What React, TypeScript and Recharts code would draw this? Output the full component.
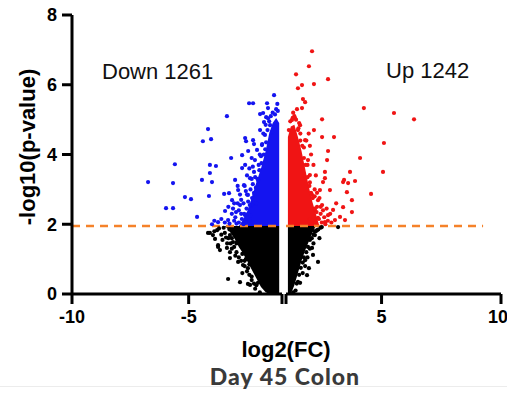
import { ComposedChart, Area, Scatter, XAxis, YAxis, ReferenceLine } from "recharts";

// dense cores of the volcano, as [low, high] -log10(p) bands per log2(FC)
const leftCoreX = [-1.12, -1.25, -1.4, -1.55, -1.7, -1.9, -2.1, -2.3, -2.5, -2.7, -2.85, -3.0, -3.3, -3.45];
const downBand: ([number, number] | null)[] = [
  [1.95, 4.9], [1.95, 5.05], [1.95, 4.9], [1.95, 4.6], [1.95, 4.1], [1.95, 3.6], [1.95, 3.2],
  [1.95, 2.75], [1.95, 2.35], [1.95, 2.1], [1.95, 1.95], null, null, null,
];
const nsLeftBand: ([number, number] | null)[] = [
  [0, 1.95], [0, 1.95], [0, 1.95], [0, 1.95], [0.05, 1.95], [0.2, 1.95], [0.45, 1.95],
  [0.7, 1.95], [0.95, 1.95], [1.2, 1.95], [1.35, 1.95], [1.55, 1.95], [1.85, 1.95], [1.95, 1.95],
];

const rightCoreX = [1.08, 1.2, 1.35, 1.5, 1.65, 1.8, 1.95, 2.1, 2.25, 2.4];
const upBand: [number, number][] = [
  [1.95, 4.5], [1.95, 4.8], [1.95, 4.85], [1.95, 4.5], [1.95, 4.1], [1.95, 3.6], [1.95, 3.1], [1.95, 2.65], [1.95, 2.3], [1.95, 1.95],
];
const nsRightBand: [number, number][] = [
  [0, 1.95], [0, 1.95], [0.25, 1.95], [0.6, 1.95], [0.95, 1.95], [1.25, 1.95], [1.5, 1.95], [1.75, 1.95], [1.95, 1.95], [1.95, 1.95],
];

// individual genes outside the cores [log2FC, -log10 p]
const downPts: [number, number][] = [
  [-1.34, 5.7], [-2.41, 5.47], [-2.24, 5.47], [-1.64, 5.47], [-1.6, 5.33], [-1.81, 5.19], [-1.94, 5.16],
  [-3.36, 5.1], [-4.17, 4.73], [-4.39, 4.38], [-4.04, 4.44], [-2.58, 4.47], [-2.54, 4.38], [-2.24, 4.41],
  [-3.18, 3.9], [-2.71, 3.98], [-5.59, 3.72], [-4.09, 3.7], [-3.83, 3.67], [-4.09, 3.47], [-4.43, 3.27],
  [-4.0, 3.21], [-6.74, 3.21], [-5.67, 3.18], [-5.16, 2.78], [-4.9, 2.72], [-4.13, 2.81], [-3.48, 2.87],
  [-3.27, 2.89], [-5.97, 2.46], [-5.67, 2.46], [-4.64, 2.21], [-3.44, 2.38], [-2.71, 3.61], [-2.58, 3.7],
  [-2.16, 3.84], [-3.01, 3.27], [-2.88, 2.98], [-2.63, 3.12], [-3.14, 2.69], [-2.8, 2.55], [-2.46, 2.84],
  [-2.97, 2.35], [-3.31, 2.12], [-2.58, 2.26], [-2.28, 2.55], [-2.37, 3.32], [-2.07, 4.13], [-1.94, 4.7],
  [-1.77, 4.93], [-1.68, 5.07], [-1.86, 4.27], [-3.74, 2.06], [-4.0, 2.0], [-1.6, 5.04], [-1.51, 4.84],
  [-1.43, 4.64], [-1.73, 4.56], [-2.2, 3.5], [-2.35, 3.0], [-2.5, 2.85], [-2.65, 2.6], [-2.45, 2.3],
  [-2.75, 2.3], [-3.0, 2.2], [-2.2, 2.9], [-2.05, 3.3], [-1.95, 4.0], [-1.85, 4.3], [-2.0, 3.7],
  [-2.3, 3.3], [-2.9, 2.6], [-3.1, 2.45], [-3.6, 2.15], [-3.9, 2.1], [-2.6, 3.1], [-2.4, 3.6],
  [-1.8, 4.6], [-1.7, 4.85],
  [-1.72, 4.15], [-1.78, 4.0], [-1.88, 3.75], [-1.97, 3.55], [-2.02, 3.25], [-2.12, 3.05], [-2.18, 2.85],
  [-2.28, 2.75], [-2.38, 2.55], [-2.52, 2.45], [-2.62, 2.3], [-2.72, 2.15], [-2.85, 2.05], [-2.95, 2.02],
  [-3.05, 2.1], [-3.25, 2.02], [-3.45, 2.05], [-2.4, 2.1], [-2.55, 2.05], [-2.25, 3.15], [-2.15, 3.35],
  [-2.45, 2.65], [-2.75, 2.7], [-2.85, 2.4], [-1.68, 4.35], [-1.62, 4.7], [-1.55, 4.95], [-1.48, 5.1],
  [-1.4, 5.2], [-1.25, 5.3], [-1.18, 5.25], [-1.2, 5.45], [-1.3, 5.15], [-2.1, 2.6],
  [-2.65, 2.0], [-3.15, 2.3], [-2.35, 2.25], [-1.9, 3.95], [-2.5, 3.4], [-2.3, 3.9], [-2.8, 2.85],
  [-3.05, 2.6], [-2.9, 3.1], [-2.55, 2.95], [-3.3, 2.5], [-2.45, 4.1], [-2.2, 4.3], [-2.25, 3.65],
];
const upPts: [number, number][] = [
  [2.09, 6.96], [1.96, 6.53], [1.42, 6.3], [2.76, 6.16], [2.17, 6.02], [1.5, 5.9], [1.67, 5.99],
  [1.71, 5.59], [1.8, 5.5], [1.46, 5.3], [1.67, 5.33], [4.26, 5.33], [5.52, 5.19], [6.36, 5.01],
  [2.51, 5.01], [2.17, 4.7], [2.51, 4.5], [3.01, 4.5], [5.1, 4.33], [2.76, 4.1], [4.1, 3.9],
  [2.72, 3.84], [5.06, 3.5], [3.68, 3.5], [2.63, 3.5], [3.43, 3.27], [3.89, 3.24], [4.56, 2.87],
  [3.55, 2.92], [2.63, 3.32], [3.39, 3.21], [3.6, 3.18], [2.55, 3.21], [3.76, 2.69], [3.76, 2.35],
  [3.39, 2.49], [3.26, 2.21], [2.97, 2.41], [2.84, 2.98], [2.42, 2.98], [2.34, 2.69], [2.21, 2.41],
  [2.51, 2.55], [2.76, 2.26], [3.05, 2.12], [2.63, 2.06], [2.34, 2.18], [3.47, 2.12], [2.09, 2.84],
  [2.0, 3.41], [1.92, 3.84], [1.8, 4.41], [1.59, 4.84], [1.38, 5.04], [1.5, 4.7], [1.25, 4.99],
  [1.9, 3.7], [2.0, 3.2], [2.2, 2.8], [2.3, 2.5], [2.45, 2.3], [2.6, 2.2], [2.7, 2.45], [1.75, 4.2],
  [1.55, 4.9], [1.3, 5.2], [2.0, 2.15], [2.85, 2.3], [3.1, 2.6], [2.4, 2.75], [1.85, 4.4], [2.15, 3.7],
  [1.12, 4.7], [1.18, 4.95], [1.28, 5.05], [1.42, 5.0], [1.52, 4.75], [1.6, 4.4], [1.68, 4.25], [1.75, 3.9],
  [1.82, 3.7], [1.9, 3.35], [1.98, 3.1], [2.05, 2.9], [2.12, 2.75], [2.2, 2.45], [2.28, 2.35], [2.38, 2.15],
  [2.5, 2.05], [2.55, 2.4], [2.65, 2.0], [2.75, 2.1], [2.9, 2.05], [2.2, 3.0], [2.3, 2.9], [1.7, 3.3],
  [1.6, 4.6], [1.35, 5.1], [2.45, 2.5], [2.1, 2.1], [2.05, 4.0], [2.25, 3.4], [2.0, 4.25], [1.95, 4.6],
];
const nsLeftPts: [number, number][] = [
  [-4.09, 1.75], [-3.78, 1.83], [-3.74, 1.35], [-3.66, 1.26], [-3.31, 0.43], [-2.8, 0.34], [-2.46, 0.29],
  [-3.23, 1.2], [-3.1, 1.49], [-4.17, 1.75], [-3.96, 1.69], [-3.87, 1.58], [-3.74, 1.4], [-3.36, 1.32],
  [-3.23, 1.03], [-2.88, 0.92], [-2.67, 0.83], [-2.46, 0.74], [-2.93, 1.49], [-3.23, 1.69], [-2.37, 0.26],
  [-2.03, 0.32], [-3.5, 1.9], [-3.9, 1.8], [-3.4, 1.62], [-3.0, 1.1], [-2.7, 0.6], [-2.3, 0.4],
  [-2.15, 0.15], [-3.15, 1.3], [-2.6, 0.95],
  [-3.45, 1.75], [-3.3, 1.6], [-3.2, 1.45], [-3.05, 1.35], [-2.95, 1.2], [-2.85, 1.05], [-2.75, 0.95],
  [-2.6, 0.8], [-2.5, 0.65], [-2.4, 0.55], [-2.3, 0.5], [-2.2, 0.3], [-2.1, 0.25], [-1.95, 0.05],
  [-3.6, 1.7], [-3.7, 1.88], [-3.55, 1.55], [-3.35, 1.45], [-3.15, 1.6], [-2.95, 1.45], [-3.05, 1.8],
  [-3.25, 1.85], [-2.7, 1.15], [-2.55, 1.0], [-2.4, 0.85], [-2.35, 0.9],
];
const nsRightPts: [number, number][] = [
  [2.34, 0.92], [2.13, 1.12], [2.09, 1.32], [1.96, 0.74], [1.88, 0.54], [1.59, 0.32], [2.21, 1.69],
  [2.3, 1.83], [2.0, 1.55], [1.8, 0.97], [2.2, 1.8], [2.45, 1.9], [1.7, 0.6], [1.45, 0.3], [2.0, 1.3],
  [1.9, 1.05], [3.18, 1.92],
  [1.4, 0.1], [1.5, 0.35], [1.55, 0.55], [1.62, 0.75], [1.7, 0.9], [1.75, 1.05], [1.85, 1.2], [1.92, 1.35],
  [2.08, 1.6], [2.15, 1.7], [2.25, 1.8], [2.35, 1.85], [2.5, 1.92], [1.3, 0.05], [2.4, 1.6], [2.15, 1.45],
  [1.8, 0.8],
];

const yTicks = [0, 2, 4, 6, 8];
const leftTicks = [-10, -5, -1];
const rightTicks = [1, 5, 10];
const cutoff = 1.95;

const leftRows = leftCoreX.map((x, i) => ({ x, down: downBand[i] ?? undefined, ns: nsLeftBand[i] ?? undefined }));
const rightRows = rightCoreX.map((x, i) => ({ x, up: upBand[i], ns: nsRightBand[i] }));
const toPts = (arr: [number, number][]) => arr.map(([x, y]) => ({ x, y }));

const dot = (color: string) => (p: any) => <circle cx={p.cx} cy={p.cy} r={2.1} fill={color} />;

const tickFont = { fill: "#000", fontSize: 18, fontWeight: 700, fontFamily: "Liberation Sans, Arial, sans-serif" };
const line = { stroke: "#000", strokeWidth: 3 };
const ORANGE = "#f5822a";
const BLUE = "#1414f0";
const RED = "#f01414";

export default function App() {
  return (
    <div style={{ position: "absolute", left: 0, top: 0, width: 507, height: 397, background: "#fff", fontFamily: "Liberation Sans, Arial, sans-serif" }}>
      <div style={{ position: "absolute", left: 0, top: 386, width: 507, height: 1, background: "#ececec" }} />
      <div style={{ position: "absolute", left: 0, top: 0 }}>
        <ComposedChart width={284} height={340} data={leftRows} margin={{ top: 15, right: 2, bottom: 6, left: 0 }}>
          <XAxis dataKey="x" type="number" domain={[-10, -1]} ticks={leftTicks} allowDataOverflow
            tickFormatter={(v) => (v === -1 ? "" : String(v))} height={40} tickSize={10} tickMargin={6}
            axisLine={line} tickLine={line} tick={tickFont} />
          <YAxis type="number" domain={[0, 8]} ticks={yTicks} width={72} tickSize={10} tickMargin={5}
            axisLine={line} tickLine={line} tick={tickFont} />
          <Area dataKey="ns" type="linear" stroke="none" fill="#000" fillOpacity={1} isAnimationActive={false} />
          <Area dataKey="down" type="linear" stroke="none" fill={BLUE} fillOpacity={1} isAnimationActive={false} />
          <Scatter data={toPts(nsLeftPts)} dataKey="y" shape={dot("#000")} isAnimationActive={false} />
          <Scatter data={toPts(downPts)} dataKey="y" shape={dot(BLUE)} isAnimationActive={false} />
          <ReferenceLine y={cutoff} stroke={ORANGE} strokeWidth={2.5} strokeDasharray="8 6" />
        </ComposedChart>
      </div>
      <div style={{ position: "absolute", left: 284, top: 0 }}>
        <ComposedChart width={223} height={340} data={rightRows} margin={{ top: 15, right: 6, bottom: 6, left: 2 }}>
          <XAxis dataKey="x" type="number" domain={[1, 10]} ticks={rightTicks} allowDataOverflow
            tickFormatter={(v) => (v === 1 ? "" : String(v))} height={40} tickSize={10} tickMargin={6}
            axisLine={line} tickLine={line} tick={tickFont} />
          <YAxis type="number" domain={[0, 8]} hide />
          <Area dataKey="ns" type="linear" stroke="none" fill="#000" fillOpacity={1} isAnimationActive={false} />
          <Area dataKey="up" type="linear" stroke="none" fill={RED} fillOpacity={1} isAnimationActive={false} />
          <Scatter data={toPts(nsRightPts)} dataKey="y" shape={dot("#000")} isAnimationActive={false} />
          <Scatter data={toPts(upPts)} dataKey="y" shape={dot(RED)} isAnimationActive={false} />
          <ReferenceLine segment={[{ x: 1, y: cutoff }, { x: 9.25, y: cutoff }]} stroke={ORANGE} strokeWidth={2.5} strokeDasharray="8 6" />
        </ComposedChart>
      </div>
      <div style={{ position: "absolute", left: 102, top: 59, fontSize: 22, color: "#111" }}>Down 1261</div>
      <div style={{ position: "absolute", left: 386, top: 58, fontSize: 22, color: "#111" }}>Up 1242</div>
      <div style={{ position: "absolute", left: 28, top: 147, transform: "translate(-50%, -50%) rotate(-90deg)", whiteSpace: "nowrap", fontSize: 22, fontWeight: 700, color: "#000" }}>-log10(p-value)</div>
      <div style={{ position: "absolute", left: 286, top: 341, transform: "translateX(-50%)", whiteSpace: "nowrap", fontSize: 22, lineHeight: 0.85, fontWeight: 700, color: "#000" }}>log2(FC)</div>
      <div style={{ position: "absolute", left: 285, top: 368, transform: "translateX(-50%)", whiteSpace: "nowrap", fontSize: 23, lineHeight: 0.75, letterSpacing: 1, fontWeight: 900, color: "#3a3a3a", fontFamily: "Lato, sans-serif" }}>Day 45 Colon</div>
    </div>
  );
}
